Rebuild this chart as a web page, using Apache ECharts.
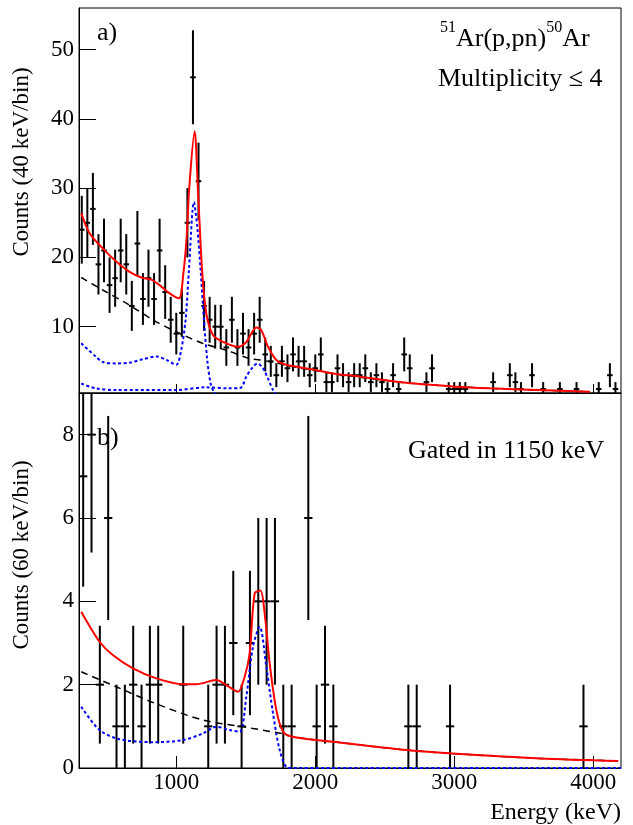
<!DOCTYPE html>
<html>
<head>
<meta charset="utf-8">
<script src="https://cdn.jsdelivr.net/npm/echarts@6/dist/echarts.min.js"></script>
<style>html,body{margin:0;padding:0;background:#fff;}#c{width:633px;height:825px;}</style>
</head>
<body>
<div id="c"></div>
<script>
// ---- Panel a) : 40 keV/bin ----
const topEnergy = [320,360,400,440,480,520,560,600,640,680,720,760,800,840,880,920,960,1000,1040,1080,1120,1160,1200,1240,1280,1320,1360,1400,1440,1480,1520,1560,1600,1640,1680,1720,1760,1800,1840,1880,1920,1960,2000,2040,2080,2120,2160,2200,2240,2280,2320,2360,2400,2440,2480,2520,2560,2600,2640,2680,2800,2840,2960,3000,3040,3080,3280,3400,3440,3480,3560,3640,3760,3880,4040,4120,4160];
const topCounts = [24,25,27,19,21,16,17,21,19,13,22,14,17,14,21,15,11,9,12,25,46,31,13,11,10,10,7,11,7,9,7,9,11,6,5,3,5,4,6,5,5,3,4,6,2,2,4,3,2,3,3,4,2,3,2,1,3,1,6,4,2,4,1,1,1,1,2,3,2,1,3,1,1,1,1,3,1];

const topTotalFit = [[316,26.4],[376,23.5],[471,21.3],[568,19.4],[664,17.9],[748,17.1],[820,16.8],[880,16.0],[952,14.8],[1019,14.1],[1050,17.5],[1075,23],[1092,29.7],[1132,38.2],[1156,29.7],[1187,17.7],[1216,11.9],[1264,8.8],[1336,7.8],[1444,7.1],[1504,7.8],[1576,9.9],[1612,9.5],[1660,7.1],[1720,5.2],[1792,4.5],[1960,3.9],[2176,3.1],[2248,3.0],[2656,1.9],[3016,1.34],[3256,1.1],[3600,0.85],[3976,0.6]];
const topBackground = [[316,17.1],[471,15.3],[664,13.1],[856,10.7],[1060,8.7],[1204,7.5],[1360,6.6],[1528,5.4],[1600,5.2],[1720,4.8],[1792,4.4],[1960,3.8],[2176,3.1],[2656,1.9],[3016,1.34],[3256,1.1],[3600,0.85],[3976,0.6]];
const topResp1150 = [[316,7.6],[420,5.7],[471,4.9],[568,4.7],[664,4.8],[760,5.3],[856,5.7],[930,5.2],[1000,4.5],[1035,6.6],[1067,11],[1091,18.2],[1127,28.0],[1151,24.4],[1175,18.2],[1199,11],[1223,5.2],[1247,1.8],[1271,0.6],[1300,0],[4200,0]];
const topResp1600 = [[316,1.8],[420,1.1],[568,0.86],[1000,0.86],[1210,1.25],[1380,1.1],[1456,1.1],[1480,1.6],[1504,2.8],[1552,4.2],[1584,4.7],[1624,4.0],[1660,2.5],[1696,0.86],[1720,0.2],[1760,0],[4200,0]];

// ---- Panel b) : 60 keV/bin, gated on 1150 keV ----
const botEnergy = [330,390,450,510,570,630,690,750,810,870,1050,1230,1290,1350,1410,1470,1530,1590,1650,1710,1770,1830,1950,2010,2070,2130,2670,2730,2970,3930];
const botCounts = [7,8,2,6,1,1,2,1,2,2,2,1,2,2,3,1,3,4,4,4,1,1,6,1,2,1,1,1,1,1];

const botTotalFit = [[316,3.75],[448,3.03],[543,2.71],[688,2.39],[856,2.15],[1048,2.01],[1144,2.01],[1288,2.11],[1360,1.99],[1444,1.83],[1492,2.19],[1528,2.75],[1564,4.19],[1605,4.26],[1636,3.71],[1672,2.51],[1720,1.39],[1768,0.87],[1816,0.77],[1960,0.69],[2176,0.61],[2656,0.43],[3016,0.34],[3616,0.23],[4180,0.17]];
const botBackground = [[316,2.31],[568,1.95],[856,1.54],[1192,1.15],[1480,0.99],[1768,0.82],[1816,0.77],[1960,0.69],[2176,0.61],[2656,0.43],[3016,0.34],[3616,0.23],[4180,0.17]];
const botResp1600 = [[316,1.47],[448,0.91],[592,0.69],[832,0.62],[1048,0.67],[1192,0.83],[1288,0.99],[1384,0.91],[1456,0.87],[1504,1.71],[1552,2.91],[1600,3.39],[1648,2.43],[1696,1.31],[1744,0.43],[1792,0.03],[1850,0],[4200,0]];

const xTicks = [1000,2000,3000,4000];
const topYTicks = [10,20,30,40,50];
const botYTicks = [0,2,4,6,8];

const FONT = '"Liberation Serif", "Times New Roman", serif';

function pairs(xs, ys){ return xs.map((x,i)=>[x, ys[i]]); }

function errRender(halfW){
  return function(params, api){
    const x = api.value(0), y = api.value(1);
    const e = Math.sqrt(y);
    const a = api.coord([x, y + e]), b = api.coord([x, y - e]);
    const l = api.coord([x - halfW, y]), r = api.coord([x + halfW, y]);
    return {type:'group', children:[
      {type:'line', shape:{x1:a[0],y1:a[1],x2:b[0],y2:b[1]}, style:{stroke:'#000', lineWidth:2}},
      {type:'line', shape:{x1:l[0],y1:l[1],x2:r[0],y2:r[1]}, style:{stroke:'#000', lineWidth:2}}
    ]};
  };
}

function lineSeries(data, xi, color, width, dash, z){
  return {type:'line', xAxisIndex:xi, yAxisIndex:xi, data:data, showSymbol:false, symbol:'none',
    smooth:0.3, clip:true, z:z,
    lineStyle:{color:color, width:width, type:dash}};
}

// text measuring for the superscript title layout
const mctx = document.createElement('canvas').getContext('2d');
function tw(t, fs){ mctx.font = fs + 'px ' + FONT; return mctx.measureText(t).width; }
function txt(x, y, text, fs, align){
  return {type:'text', x:x, y:y, style:{text:text, font:fs + 'px ' + FONT, fill:'#000', textAlign:align || 'left', textVerticalAlign:'middle'}};
}
const titleParts = [['51',16,28],['Ar(p,pn)',26,39.5],['50',16,28],['Ar',26,39.5]];
const titleGraphics = [];
let tx = 440;
titleParts.forEach(p => { titleGraphics.push(txt(tx, p[2], p[0], p[1])); tx += tw(p[0], p[1]); });

const chart = echarts.init(document.getElementById('c'), null, {renderer:'canvas'});
const axisLabelStyle = {color:'#000', fontFamily:FONT, fontSize:23};
const plain = v => String(v);

chart.setOption({
  animation:false,
  backgroundColor:'#fff',
  grid:[
    {left:79, top:8, width:542, height:385, show:true, borderColor:'#000', borderWidth:1, containLabel:false},
    {left:79, top:393, width:542, height:375, show:true, borderColor:'#000', borderWidth:1, containLabel:false}
  ],
  xAxis:[
    {gridIndex:0, type:'value', min:300, max:4200,
      axisLine:{show:true, lineStyle:{color:'#000', width:1}},
      axisTick:{show:true, inside:true, length:9, customValues:xTicks, lineStyle:{color:'#000'}},
      axisLabel:{show:false}, splitLine:{show:false}},
    {gridIndex:1, type:'value', min:300, max:4200,
      axisLine:{show:true, lineStyle:{color:'#000', width:1}},
      axisTick:{show:true, inside:true, length:12, customValues:xTicks, lineStyle:{color:'#000'}},
      axisLabel:Object.assign({show:true, margin:3, customValues:xTicks, formatter:plain}, axisLabelStyle),
      splitLine:{show:false}}
  ],
  yAxis:[
    {gridIndex:0, type:'value', min:0.43, max:56,
      axisLine:{show:true, lineStyle:{color:'#000', width:1}},
      axisTick:{show:true, inside:true, length:17, customValues:topYTicks, lineStyle:{color:'#000'}},
      axisLabel:Object.assign({show:true, margin:5, customValues:topYTicks, formatter:plain}, axisLabelStyle),
      splitLine:{show:false}},
    {gridIndex:1, type:'value', min:0, max:9,
      axisLine:{show:true, lineStyle:{color:'#000', width:1}},
      axisTick:{show:true, inside:true, length:17, customValues:botYTicks, lineStyle:{color:'#000'}},
      axisLabel:Object.assign({show:true, margin:5, customValues:botYTicks, formatter:plain}, axisLabelStyle),
      splitLine:{show:false}}
  ],
  series:[
    {type:'custom', xAxisIndex:0, yAxisIndex:0, data:pairs(topEnergy, topCounts), renderItem:errRender(20), clip:true, z:2},
    lineSeries(topResp1150, 0, '#0000ff', 2, [3,2.5], 3),
    lineSeries(topResp1600, 0, '#0000ff', 2, [3,2.5], 3),
    lineSeries(topBackground, 0, '#000', 1.5, [7,5], 3),
    lineSeries(topTotalFit, 0, '#ff0000', 2, 'solid', 4),
    {type:'custom', xAxisIndex:1, yAxisIndex:1, data:pairs(botEnergy, botCounts), renderItem:errRender(30), clip:true, z:2},
    lineSeries(botResp1600, 1, '#0000ff', 2, [3,2.5], 3),
    lineSeries(botBackground, 1, '#000', 1.5, [7,5], 3),
    lineSeries(botTotalFit, 1, '#ff0000', 2, 'solid', 4)
  ],
  graphic: titleGraphics.concat([
    txt(97, 33, 'a)', 26),
    txt(97, 438, 'b)', 26),
    txt(438, 79.5, 'Multiplicity \u2264 4', 26),
    txt(408, 451, 'Gated in 1150 keV', 26),
    txt(621, 812.5, 'Energy (keV)', 24, 'right'),
    {type:'text', x:22, y:162, rotation:Math.PI/2, style:{text:'Counts (40 keV/bin)', font:'23px ' + FONT, fill:'#000', textAlign:'center', textVerticalAlign:'middle'}},
    {type:'text', x:22, y:555, rotation:Math.PI/2, style:{text:'Counts (60 keV/bin)', font:'23px ' + FONT, fill:'#000', textAlign:'center', textVerticalAlign:'middle'}}
  ])
});
</script>
</body>
</html>
